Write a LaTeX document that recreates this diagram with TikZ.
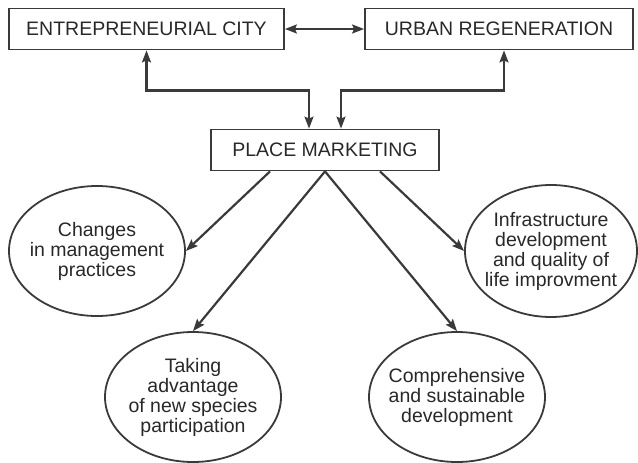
\documentclass[tikz,border=0pt]{standalone}
\usepackage{fontspec}
\setmainfont{Liberation Sans}
\usepackage{tikz}
\usetikzlibrary{shapes.geometric, arrows.meta}
\definecolor{cLine}{RGB}{58,58,58}
\definecolor{cText}{RGB}{40,40,40}
\tikzset{
	topbox/.style={rectangle, draw=cLine, line width=1.8pt, minimum height=41pt, inner sep=0pt, text=cText},
	goal/.style={ellipse, draw=cLine, line width=1.8pt, align=center, inner xsep=-14pt, inner ysep=0pt, minimum width=176pt, minimum height=130pt, text=cText},
	flowarrow/.style={-{Stealth[length=12pt, width=9pt, inset=2pt]}, line width=2.2pt, cLine},
	bothways/.style={{Stealth[length=12pt, width=9pt, inset=2pt]}-{Stealth[length=12pt, width=9pt, inset=2pt]}, line width=2.2pt, cLine},
}

\begin{document}
\begin{tikzpicture}[x=1pt, y=-1pt, font=\fontsize{19.5}{20}\selectfont]
	\useasboundingbox (0,0) rectangle (638,463);
	% boxes
	\node[topbox, minimum width=275pt] (ec) at (146.5,29) {ENTREPRENEURIAL CITY};
	\node[topbox, minimum width=268pt] (ur) at (499,29) {URBAN REGENERATION};
	\node[topbox, minimum width=228pt] (pm) at (325,150) {PLACE MARKETING};
	% goals
	\node[goal] (chg) at (97,251) {Changes\\in management\\practices};
	\node[goal, minimum width=172pt, minimum height=132pt] (inf) at (551,251) {Infrastructure\\development\\and quality of\\life improvment};
	\node[goal] (tak) at (193,397) {Taking\\advantage\\of new species\\participation};
	\node[goal] (cmp) at (457,397) {Comprehensive\\and sustainable\\development};
	% links
	\draw[bothways] (ec.east) -- (ur.west);
	\draw[bothways] (ec.south) -- ++(0,40) -| ([xshift=-16pt]pm.north);
	\draw[bothways] ([xshift=5pt]ur.south) -- ++(0,40) -| ([xshift=16pt]pm.north);
	\draw[flowarrow] ([xshift=-55pt]pm.south) -- (chg.east);
	\draw[flowarrow] (pm.south) -- (tak.north);
	\draw[flowarrow] (pm.south) -- (cmp.north);
	\draw[flowarrow] ([xshift=55pt]pm.south) -- (inf.west);
\end{tikzpicture}
\end{document}
